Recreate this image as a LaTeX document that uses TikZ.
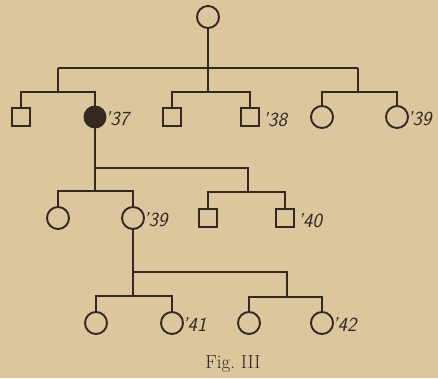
\documentclass[tikz,border=0pt]{standalone}
\definecolor{paper}{RGB}{219,198,158}
\definecolor{ink}{RGB}{52,40,33}
\begin{document}
\begin{tikzpicture}[x=1pt,y=-1pt,
  line width=1.9pt, draw=ink,
  fem/.style={circle,draw=ink,line width=1.9pt,minimum size=22pt,inner sep=0pt},
  affected/.style={fem,fill=ink,minimum size=21pt},
  male/.style={rectangle,draw=ink,line width=1.9pt,minimum size=18pt,inner sep=0pt},
  yr/.style={font=\fontsize{20}{20}\selectfont\sffamily\itshape,text=ink,inner sep=0pt,anchor=south west}]
\fill[paper,draw=none] (0,0) rectangle (438,378);
\useasboundingbox (0,0) rectangle (438,378);

% generation I
\node[fem] (top) at (208,17) {};

% generation II
\node[male]     (c1) at (21,117) {};
\node[affected] (c2) at (95,117) {};
\node[male]     (c3) at (172,117) {};
\node[male]     (c4) at (250,117) {};
\node[fem]      (c5) at (322,117) {};
\node[fem]      (c6) at (397,117) {};

% generation III
\node[fem]  (g1) at (58,218) {};
\node[fem]  (g2) at (133,218) {};
\node[male] (g3) at (208,218) {};
\node[male] (g4) at (285,218) {};

% generation IV
\node[fem] (h1) at (96,323) {};
\node[fem] (h2) at (172,323) {};
\node[fem] (h3) at (249,323) {};
\node[fem] (h4) at (322,323) {};

% year labels
\node[yr] at ([shift={(1,2)}]c2.south east) {'37};
\node[yr] at ([shift={(2,1)}]c4.south east) {'38};
\node[yr] at ([shift={(1,1)}]c6.south east) {'39};
\node[yr] at ([shift={(1,1)}]g2.south east) {'39};
\node[yr] at ([shift={(2,1)}]g4.south east) {'40};
\node[yr] at ([shift={(1,1)}]h2.south east) {'41};
\node[yr] at ([shift={(1,1)}]h4.south east) {'42};

% junction points
\coordinate (j1) at (58,68);
\coordinate (j2) at (208,68);
\coordinate (j3) at (358,68);
\coordinate (k1) at (58,92);
\coordinate (k2) at (208,92);
\coordinate (k3) at (358,92);
\coordinate (l1) at (95,168);
\coordinate (l2) at (248,168);
\coordinate (m1) at (95,191);
\coordinate (m2) at (248,192);
\coordinate (n0) at (133,272);
\coordinate (n2) at (287,272);
\coordinate (n1) at (133,296);
\coordinate (n3) at (287,297);

% lines of descent
\draw[ink] (top) -- (j2);
\draw[ink] (j1) -- (j3);
\draw[ink] (j1) -- (k1);
\draw[ink] (j2) -- (k2);
\draw[ink] (j3) -- (k3);
\draw[ink] (c1.north) |- (k1) -| (c2.north);
\draw[ink] (c3.north) |- (k2) -| (c4.north);
\draw[ink] (c5.north) |- (k3) -| (c6.north);

\draw[ink] (c2) -- (m1);
\draw[ink] (l1) -- (l2) -- (m2);
\draw[ink] (g1.north) |- (m1) -| (g2.north);
\draw[ink] (g3.north) |- (m2) -| (g4.north);

\draw[ink] (g2) -- (n1);
\draw[ink] (n0) -- (n2) -- (n3);
\draw[ink] (h1.north) |- (n1) -| (h2.north);
\draw[ink] (h3.north) |- (n3) -| (h4.north);

% caption
\node[font=\fontsize{19}{19}\selectfont,text=ink] (cap) at (233,364) {Fig.\ III};
\end{tikzpicture}
\end{document}
